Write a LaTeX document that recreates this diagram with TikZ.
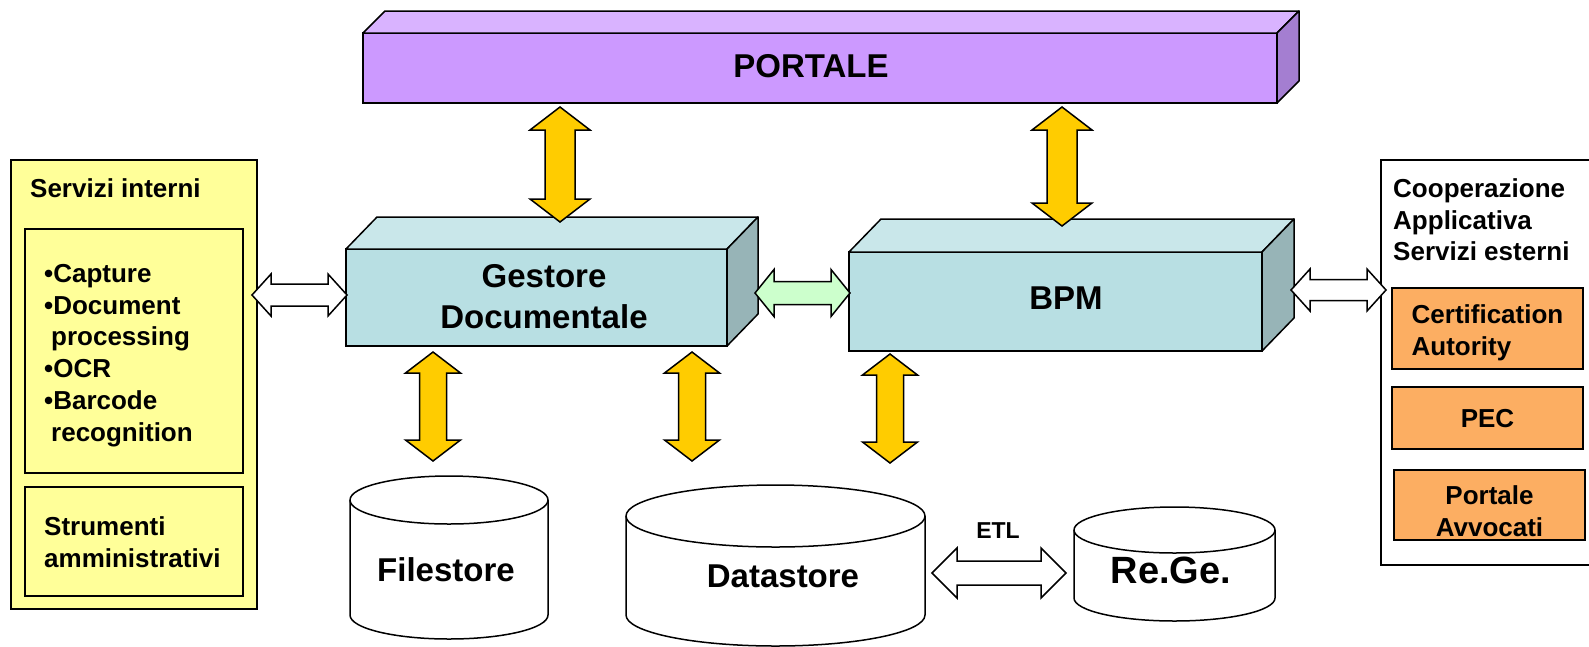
\documentclass[tikz,border=0pt]{standalone}
\usepackage{fontspec}
\setmainfont{Liberation Sans}
\usepackage{tikz}
\usetikzlibrary{positioning,calc}
\definecolor{lilac}{HTML}{CC99FF}
\definecolor{lilactop}{HTML}{D9B3FF}
\definecolor{lilacside}{HTML}{A47ED1}
\definecolor{aqua}{HTML}{B8DFE3}
\definecolor{aquatop}{HTML}{C9E7EA}
\definecolor{aquaside}{HTML}{97B4B7}
\definecolor{paleyellow}{HTML}{FFFF99}
\definecolor{peach}{HTML}{FCAE62}
\definecolor{gold}{HTML}{FFCC00}
\definecolor{mint}{HTML}{CCFFCC}

% vertical double block arrow: style, top tip, bottom tip, shaft half, head half, head length
\newcommand{\vdbl}[6]{%
  \draw[#1] let \p1=(#2), \p2=(#3) in
    (\x1,\y1) -- (\x1+#5,\y1-#6) -- (\x1+#4,\y1-#6) -- (\x1+#4,\y2+#6) -- (\x1+#5,\y2+#6)
    -- (\x2,\y2) -- (\x1-#5,\y2+#6) -- (\x1-#4,\y2+#6) -- (\x1-#4,\y1-#6) -- (\x1-#5,\y1-#6) -- cycle;}
% horizontal double block arrow: style, left tip, right tip, shaft half, head half, head length
\newcommand{\hdbl}[6]{%
  \draw[#1] let \p1=(#2), \p2=(#3) in
    (\x1,\y1) -- (\x1+#6,\y1+#5) -- (\x1+#6,\y1+#4) -- (\x2-#6,\y1+#4) -- (\x2-#6,\y1+#5)
    -- (\x2,\y1) -- (\x2-#6,\y1-#5) -- (\x2-#6,\y1-#4) -- (\x1+#6,\y1-#4) -- (\x1+#6,\y1-#5) -- cycle;}
% cylinder: centre x, x radius, top centre y, bottom centre y, y radius
\newcommand{\dbcyl}[5]{%
  \filldraw[cyl] (#1-#2,#3) -- (#1-#2,#4) arc[start angle=180, end angle=360, x radius=#2, y radius=#5]
    -- (#1+#2,#3) arc[start angle=0, end angle=180, x radius=#2, y radius=#5] -- cycle;
  \draw[cyl] (#1-#2,#3) arc[start angle=180, end angle=360, x radius=#2, y radius=#5];}

\begin{document}
\begin{tikzpicture}[x=1pt,y=1pt,
    front/.style={draw=black, line width=1.5pt, inner sep=0pt, outer sep=0pt},
    face/.style={draw=black, line width=1.5pt, line join=round},
    big/.style={font=\bfseries\fontsize{33}{41}\selectfont, align=center, inner sep=0pt},
    small/.style={font=\bfseries\fontsize{26}{31.7}\selectfont, align=left, inner sep=0pt},
    panel/.style={draw=black, line width=1.5pt, inner sep=0pt, outer sep=0pt},
    extbox/.style={panel, fill=peach, minimum width=191pt},
    exttxt/.style={font=\bfseries\fontsize{26}{32}\selectfont, inner sep=0pt},
    yarrow/.style={fill=gold, draw=black, line width=1.5pt},
    warrow/.style={fill=white, draw=black, line width=1.5pt},
    garrow/.style={fill=mint, draw=black, line width=1.5pt},
    cyl/.style={fill=white, draw=black, line width=1.5pt}]

  \useasboundingbox (0,0) rectangle (1589,-646);

  % portale
  \node[front, fill=lilac, minimum width=914pt, minimum height=70pt] (portale) at (820,-68) {};
  \path[face, fill=lilactop] (portale.north west) -- ++(22,22) -- ($(portale.north east)+(22,22)$) -- (portale.north east) -- cycle;
  \path[face, fill=lilacside] (portale.north east) -- ++(22,22) -- ($(portale.south east)+(22,22)$) -- (portale.south east) -- cycle;
  \node[big] (portaletxt) at (811,-66) {PORTALE};

  % gestore documentale
  \node[front, fill=aqua, minimum width=381pt, minimum height=97pt] (gestore) at (536.5,-297.5) {};
  \path[face, fill=aquatop] (gestore.north west) -- ++(31,32) -- ($(gestore.north east)+(31,32)$) -- (gestore.north east) -- cycle;
  \path[face, fill=aquaside] (gestore.north east) -- ++(31,32) -- ($(gestore.south east)+(31,32)$) -- (gestore.south east) -- cycle;
  \node[big] (gestoretxt) at (544,-296.5) {Gestore\\Documentale};

  % bpm
  \node[front, fill=aqua, minimum width=413pt, minimum height=99pt] (bpm) at (1055.5,-301.5) {};
  \path[face, fill=aquatop] (bpm.north west) -- ++(32,33) -- ($(bpm.north east)+(32,33)$) -- (bpm.north east) -- cycle;
  \path[face, fill=aquaside] (bpm.north east) -- ++(32,33) -- ($(bpm.south east)+(32,33)$) -- (bpm.south east) -- cycle;
  \node[big] (bpmtxt) at (1066,-298) {BPM};

  % servizi interni
  \node[panel, fill=paleyellow, minimum width=246pt, minimum height=449pt] (interni) at (134,-384.5) {};
  \node[panel, fill=paleyellow, minimum width=218pt, minimum height=244pt] (strumlist) at (134,-351) {};
  \node[panel, fill=paleyellow, minimum width=218pt, minimum height=109pt] (strumadm) at (134,-541.5) {};
  \node[small, anchor=west] (internitxt) at (30,-188) {Servizi interni};
  \node[small, anchor=west] (listtxt) at (44,-355.5) {•Capture\\•Document\\\hspace*{7pt}processing\\•OCR\\•Barcode\\\hspace*{7pt}recognition};
  \node[small, anchor=west] (admtxt) at (44,-542.5) {Strumenti\\amministrativi};

  % servizi esterni
  \node[panel, fill=white, minimum width=214pt, minimum height=405pt] (esterni) at (1488,-362.5) {};
  \node[small, anchor=west] (esternitxt) at (1393,-220) {Cooperazione\\Applicativa\\Servizi esterni};
  \node[extbox, minimum height=81pt] (certaut) at (1487.5,-328.5) {};
  \node[extbox, minimum height=62pt] (pec) at (1487.5,-418) {};
  \node[extbox, minimum height=70pt] (avvocati) at (1489.5,-505) {};
  \node[exttxt, align=left] (certtxt) at ([yshift=-4.5pt]certaut.center) {Certification\\Autority};
  \node[exttxt] (pectxt) at ([yshift=-1pt]pec.center) {PEC};
  \node[exttxt, align=center] (avvtxt) at ([yshift=-6pt]avvocati.center) {Portale\\Avvocati};

  % archivi
  \dbcyl{449}{99}{-500}{-615}{24}
  \dbcyl{775.5}{149.5}{-516}{-615}{31}
  \dbcyl{1174.5}{100.5}{-530}{-598}{23}
  \node[big] (filestore) at (446,-570) {Filestore};
  \node[big] (datastore) at (783,-576) {Datastore};
  \node[big, font=\bfseries\fontsize{38}{44}\selectfont] (rege) at (1171,-570) {Re.Ge.};
  \node[font=\bfseries\fontsize{23}{27}\selectfont, inner sep=0pt] (etl) at (998,-531) {ETL};

  % arrow ends
  \coordinate (a1t) at (560,-107);  \coordinate (a1b) at (560,-222);
  \coordinate (a2t) at (1062,-107); \coordinate (a2b) at (1062,-226);
  \coordinate (a3t) at (433,-352);  \coordinate (a3b) at (433,-461);
  \coordinate (a4t) at (692,-352);  \coordinate (a4b) at (692,-461);
  \coordinate (a5t) at (890,-354);  \coordinate (a5b) at (890,-463);
  \coordinate (h1l) at (252,-295);  \coordinate (h1r) at (347,-295);
  \coordinate (h2l) at (755,-293);  \coordinate (h2r) at (850,-293);
  \coordinate (h3l) at (1291,-290); \coordinate (h3r) at (1386,-290);
  \coordinate (e1l) at (932,-573);  \coordinate (e1r) at (1066,-573);

  \vdbl{yarrow}{a1t}{a1b}{15pt}{30pt}{23pt}
  \vdbl{yarrow}{a2t}{a2b}{15pt}{30pt}{23pt}
  \vdbl{yarrow}{a3t}{a3b}{13.5pt}{27.5pt}{21pt}
  \vdbl{yarrow}{a4t}{a4b}{13.5pt}{27.5pt}{21pt}
  \vdbl{yarrow}{a5t}{a5b}{13.5pt}{27.5pt}{21pt}
  \hdbl{warrow}{h1l}{h1r}{11pt}{21pt}{19pt}
  \hdbl{garrow}{h2l}{h2r}{11.5pt}{23.5pt}{19pt}
  \hdbl{warrow}{h3l}{h3r}{10.5pt}{21pt}{19pt}
  \hdbl{warrow}{e1l}{e1r}{12pt}{25pt}{25pt}
\end{tikzpicture}
\end{document}
